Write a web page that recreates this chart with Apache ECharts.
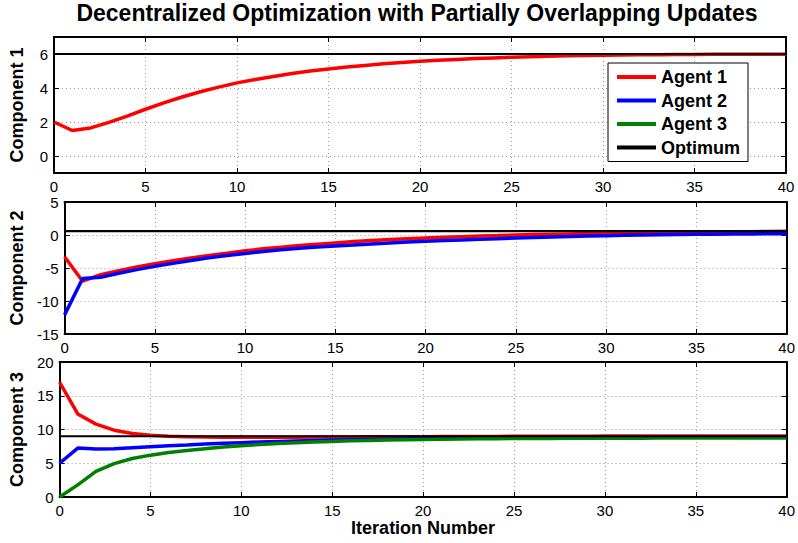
<!DOCTYPE html>
<html>
<head>
<meta charset="utf-8">
<script src="https://cdn.jsdelivr.net/npm/echarts@6/dist/echarts.min.js"></script>
<style>html,body{margin:0;padding:0;background:#fff;}#main{width:798px;height:543px;}</style>
</head>
<body>
<div id="main"></div>
<script>
const iterations = [0,1,2,3,4,5,6,7,8,9,10,11,12,13,14,15,16,17,18,19,20,21,22,23,24,25,26,27,28,29,30,31,32,33,34,35,36,37,38,39,40];
const c1Agent1 = [2.0,1.5,1.65,1.98,2.35,2.75,3.12,3.47,3.78,4.05,4.3,4.5,4.68,4.85,5.0,5.12,5.23,5.33,5.42,5.5,5.57,5.63,5.68,5.73,5.77,5.81,5.84,5.87,5.89,5.91,5.93,5.94,5.95,5.96,5.97,5.97,5.98,5.98,5.99,5.99,5.99];
const c2Agent1 = [-3.3,-7.0,-6.0,-5.4,-4.85,-4.35,-3.9,-3.5,-3.1,-2.75,-2.4,-2.1,-1.85,-1.6,-1.4,-1.2,-1.0,-0.85,-0.7,-0.55,-0.45,-0.35,-0.25,-0.15,-0.08,0.0,0.06,0.12,0.17,0.21,0.25,0.29,0.32,0.35,0.38,0.41,0.44,0.47,0.5,0.52,0.55];
const c2Agent2 = [-12.1,-6.6,-6.4,-5.8,-5.25,-4.75,-4.3,-3.85,-3.45,-3.1,-2.8,-2.5,-2.25,-2.0,-1.8,-1.65,-1.5,-1.35,-1.2,-1.05,-0.95,-0.85,-0.75,-0.65,-0.55,-0.45,-0.38,-0.3,-0.23,-0.15,-0.1,-0.05,0.0,0.04,0.07,0.1,0.12,0.14,0.16,0.18,0.2];
const c3Agent1 = [17.0,12.3,10.8,9.9,9.4,9.15,9.0,8.92,8.88,8.85,8.85,8.85,8.86,8.87,8.88,8.89,8.9,8.91,8.92,8.93,8.94,8.95,8.96,8.97,8.98,8.99,9.0,9.0,9.01,9.01,9.02,9.02,9.03,9.03,9.03,9.04,9.04,9.04,9.05,9.05,9.05];
const c3Agent2 = [5.0,7.25,7.1,7.15,7.3,7.45,7.6,7.72,7.85,7.95,8.05,8.15,8.23,8.3,8.37,8.43,8.48,8.53,8.57,8.61,8.65,8.68,8.71,8.73,8.75,8.77,8.79,8.8,8.81,8.82,8.83,8.84,8.85,8.85,8.86,8.86,8.87,8.87,8.88,8.88,8.88];
const c3Agent3 = [0.0,1.8,3.8,4.95,5.7,6.2,6.6,6.9,7.15,7.4,7.6,7.78,7.93,8.05,8.15,8.24,8.32,8.38,8.44,8.49,8.53,8.57,8.6,8.62,8.64,8.66,8.67,8.68,8.69,8.7,8.71,8.72,8.72,8.73,8.73,8.74,8.74,8.74,8.75,8.75,8.75];
const optimum = [6, 0.6, 9];

const xTicks = [0,5,10,15,20,25,30,35,40];
const yTicks1 = [0,2,4,6];
const yTicks2 = [-15,-10,-5,0,5];
const yTicks3 = [0,5,10,15,20];
const yNames = ['Component 1','Component 2','Component 3'];
const seriesNames = ['Agent 1','Agent 2','Agent 3','Optimum'];
const titleText = 'Decentralized Optimization with Partially Overlapping Updates';
const colors = {'Agent 1':'#ff0000','Agent 2':'#0000ff','Agent 3':'#008000','Optimum':'#000000'};

const FONT = '"Liberation Sans", Arial, Helvetica, sans-serif';
const grids = [
  {left: 54, right: 12, top: 37, height: 136},
  {left: 56, right: 10, top: 202, height: 132},
  {left: 57, right: 10, top: 362, height: 135}
];
const yRanges = [
  {min: -1, max: 7, ticks: yTicks1, gap: 28},
  {min: -15, max: 5, interval: 5, ticks: yTicks2, gap: 30},
  {min: 0, max: 20, interval: 5, ticks: yTicks3, gap: 31}
];

const dotted = {show: true, lineStyle: {color: '#9a9a9a', type: [1, 3], width: 1}};
const axisLine = {show: true, onZero: false, lineStyle: {color: '#000', width: 2}};
const tick = {show: true, inside: true, length: 5, lineStyle: {color: '#000', width: 1}};

const xAxes = [], yAxes = [];
grids.forEach((g, i) => {
  xAxes.push({
    type: 'value', gridIndex: i, min: 0, max: 40, interval: 5, position: 'bottom',
    axisLine: axisLine, axisTick: tick, splitLine: dotted,
    axisLabel: {color: '#000', fontSize: 15, lineHeight: 14, fontFamily: FONT, margin: 6,
      formatter: v => xTicks.includes(v) ? String(v) : ''},
    name: i === 2 ? 'Iteration Number' : '', nameLocation: 'middle', nameGap: 22,
    nameTextStyle: {color: '#000', fontSize: 18, fontWeight: 'bold', fontFamily: FONT}
  });
  xAxes.push({
    type: 'value', gridIndex: i, min: 0, max: 40, interval: 5, position: 'top',
    axisLine: axisLine, axisTick: tick, splitLine: {show: false}, axisLabel: {show: false}
  });
  const r = yRanges[i];
  const yl = {
    type: 'value', gridIndex: i, min: r.min, max: r.max, position: 'left',
    axisLine: axisLine, axisTick: tick, splitLine: dotted,
    axisLabel: {color: '#000', fontSize: 15, lineHeight: 14, fontFamily: FONT, margin: 6,
      formatter: v => r.ticks.includes(v) ? String(v) : ''},
    name: yNames[i], nameLocation: 'middle', nameGap: r.gap,
    nameTextStyle: {color: '#000', fontSize: 18, fontWeight: 'bold', fontFamily: FONT}
  };
  const yr = {
    type: 'value', gridIndex: i, min: r.min, max: r.max, position: 'right',
    axisLine: axisLine, axisTick: tick, splitLine: {show: false}, axisLabel: {show: false}
  };
  if (r.interval) { yl.interval = r.interval; yr.interval = r.interval; }
  yAxes.push(yl, yr);
});

function pts(vals) { return iterations.map((x, k) => [x, vals[k]]); }
function mk(name, vals, gi, w, z) {
  return {
    name: name, type: 'line', xAxisIndex: gi * 2, yAxisIndex: gi * 2,
    data: vals, symbol: 'none', silent: true, animation: false, z: z,
    lineStyle: {color: colors[name], width: w}, itemStyle: {color: colors[name]}
  };
}
const panelAgents = [
  [['Agent 1', c1Agent1]],
  [['Agent 1', c2Agent1], ['Agent 2', c2Agent2]],
  [['Agent 1', c3Agent1], ['Agent 2', c3Agent2], ['Agent 3', c3Agent3]]
];
const series = [];
panelAgents.forEach((list, gi) => {
  list.forEach(([n, v], k) => series.push(mk(n, pts(v), gi, 3.5, 2 + k)));
  series.push(mk('Optimum', [[iterations[0], optimum[gi]], [iterations[iterations.length - 1], optimum[gi]]], gi, 2.2, 6));
});

const chart = echarts.init(document.getElementById('main'), null, {renderer: 'svg'});
chart.setOption({
  backgroundColor: '#fff',
  animation: false,
  graphic: [{
    type: 'text', x: 417, y: 1, silent: true,
    style: {text: titleText, textAlign: 'center', textVerticalAlign: 'top',
      fill: '#000', fontSize: 23, fontWeight: 'bold', fontFamily: FONT}
  }],
  legend: {
    data: seriesNames.map(n => ({name: n, icon: 'rect', itemStyle: {color: colors[n]}})),
    orient: 'vertical', left: 608, top: 63,
    padding: [4, 8, 4, 9], itemGap: 3.5, itemWidth: 39, itemHeight: 4,
    backgroundColor: '#fff', borderColor: '#000', borderWidth: 1, borderRadius: 0,
    selectedMode: false, z: 10,
    textStyle: {color: '#000', fontSize: 18, fontWeight: 'bold', fontFamily: FONT, lineHeight: 20}
  },
  grid: grids.map(g => Object.assign({show: false}, g)),
  xAxis: xAxes,
  yAxis: yAxes,
  series: series
});
</script>
</body>
</html>
